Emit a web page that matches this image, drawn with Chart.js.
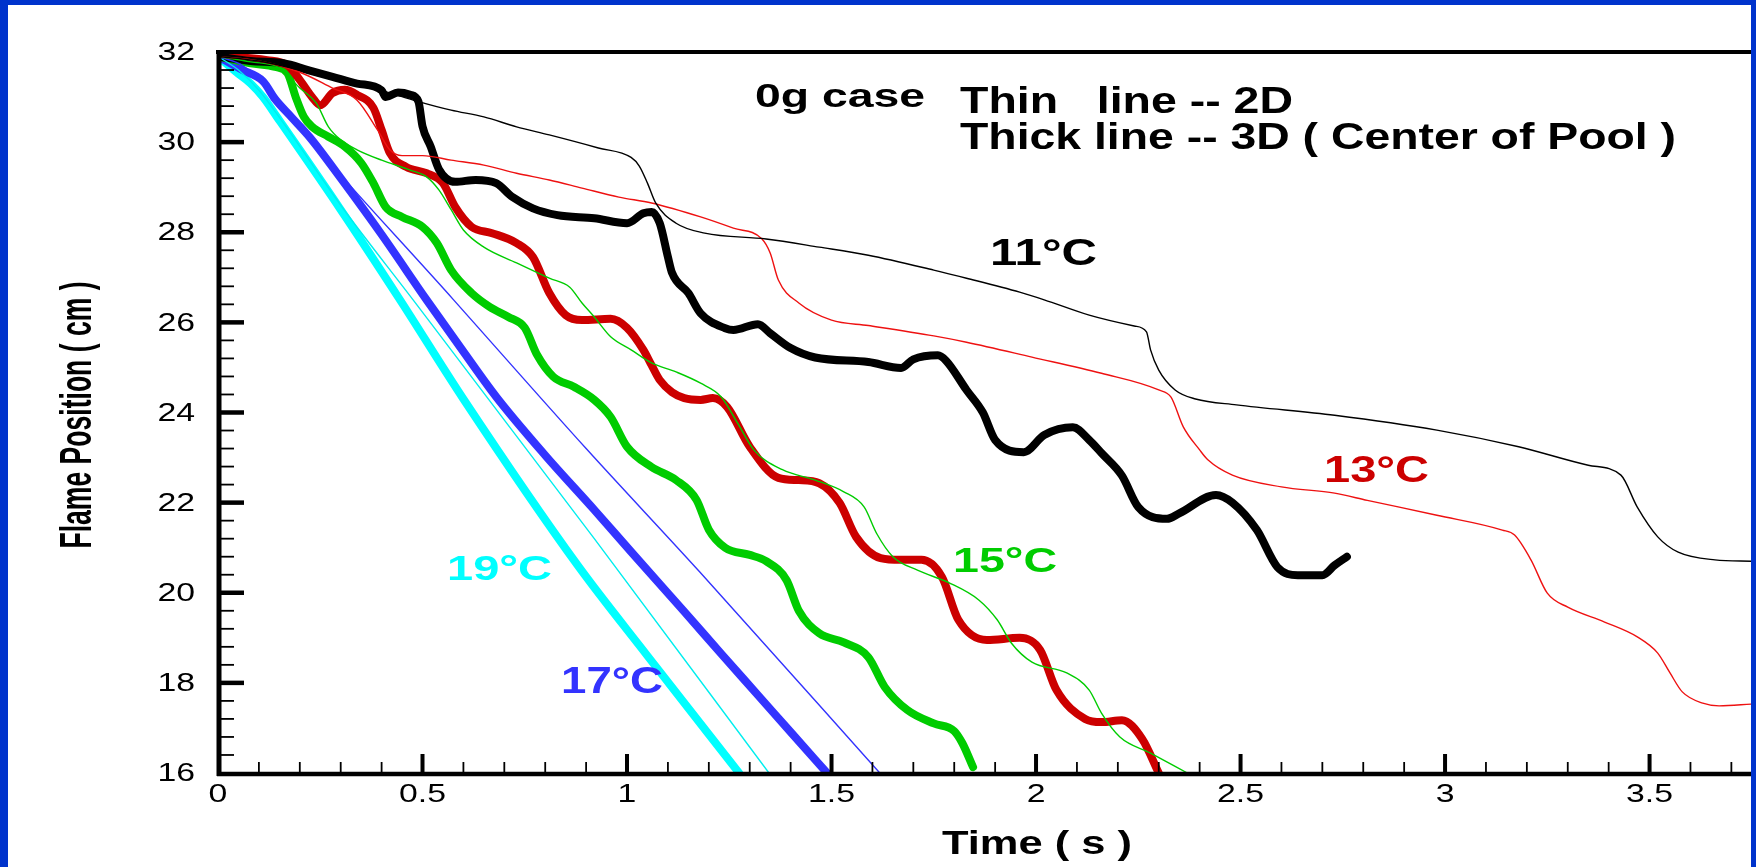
<!DOCTYPE html>
<html><head><meta charset="utf-8">
<script src="https://cdn.jsdelivr.net/npm/chart.js@4.4.1/dist/chart.umd.min.js"></script>
<style>
html,body{margin:0;padding:0;background:#0033cc;width:1756px;height:867px;overflow:hidden}
#wrap{position:absolute;left:8px;top:5px;width:1743px;height:862px;background:#fff}
canvas{display:block}
</style></head><body>
<div id="wrap"><canvas id="c" width="1743" height="862"></canvas></div>
<script>
// ---- data (time in s, flame position in cm) ----
const t11_3D = [0,0.08,0.16,0.22,0.28,0.34,0.40,0.41,0.44,0.47,0.49,0.50,0.52,0.54,0.58,0.63,0.68,0.72,0.77,0.83,0.92,1.00,1.04,1.06,1.08,1.10,1.11,1.15,1.18,1.24,1.26,1.32,1.35,1.40,1.46,1.59,1.67,1.70,1.76,1.78,1.83,1.87,1.90,1.97,2.02,2.09,2.13,2.16,2.21,2.25,2.32,2.35,2.44,2.48,2.54,2.59,2.64,2.70,2.73,2.76];
const v11_3D = [31.9,31.8,31.75,31.6,31.45,31.3,31.15,31.0,31.1,31.05,30.9,30.35,29.9,29.4,29.12,29.16,29.09,28.78,28.53,28.38,28.31,28.2,28.42,28.45,28.2,27.45,27.1,26.65,26.2,25.87,25.83,25.96,25.76,25.43,25.22,25.12,24.99,25.18,25.27,25.15,24.5,24.0,23.39,23.12,23.5,23.67,23.39,23.1,22.6,21.9,21.64,21.76,22.17,22.0,21.39,20.57,20.39,20.39,20.61,20.8];
const t11_2D = [0,0.1,0.2,0.3,0.4,0.49,0.57,0.65,0.73,0.81,0.93,1.01,1.03,1.05,1.07,1.12,1.19,1.34,1.47,1.59,1.75,1.83,1.96,2.02,2.13,2.24,2.27,2.28,2.30,2.34,2.39,2.49,2.73,2.98,3.18,3.35,3.43,3.47,3.52,3.57,3.66,3.75];
const v11_2D = [31.9,31.8,31.6,31.4,31.15,30.9,30.71,30.56,30.34,30.16,29.87,29.66,29.47,29.09,28.65,28.2,27.98,27.85,27.67,27.49,27.16,26.98,26.67,26.5,26.16,25.92,25.79,25.39,24.94,24.5,24.3,24.17,23.94,23.61,23.24,22.83,22.61,21.9,21.24,20.9,20.73,20.7];
const t13_3D = [0,0.12,0.17,0.20,0.23,0.25,0.28,0.31,0.34,0.38,0.40,0.42,0.46,0.51,0.55,0.58,0.62,0.67,0.73,0.77,0.81,0.85,0.89,0.96,1.0,1.04,1.06,1.08,1.11,1.14,1.18,1.21,1.245,1.30,1.37,1.42,1.47,1.52,1.56,1.62,1.67,1.72,1.77,1.81,1.88,1.96,2.01,2.05,2.12,2.16,2.21,2.26,2.30];
const v13_3D = [31.9,31.82,31.7,31.38,31.0,30.82,31.09,31.16,31.05,30.76,30.27,29.76,29.45,29.31,29.09,28.56,28.12,27.98,27.76,27.45,26.65,26.16,26.05,26.08,25.88,25.39,25.05,24.72,24.45,24.32,24.28,24.32,24.12,23.24,22.55,22.5,22.43,21.99,21.24,20.77,20.73,20.73,20.35,19.4,18.95,19.0,18.73,17.84,17.2,17.13,17.17,16.75,16.0];
const t13_2D = [0,0.1,0.2,0.28,0.34,0.39,0.42,0.45,0.50,0.57,0.65,0.73,0.81,0.89,0.98,1.06,1.18,1.26,1.33,1.35,1.37,1.42,1.50,1.59,1.75,1.83,1.99,2.16,2.30,2.33,2.36,2.40,2.42,2.48,2.60,2.73,2.81,2.98,3.14,3.17,3.21,3.25,3.30,3.39,3.47,3.52,3.55,3.58,3.63,3.67,3.75];
const v13_2D = [31.9,31.8,31.55,31.2,30.93,30.27,29.83,29.7,29.7,29.6,29.49,29.31,29.16,28.98,28.78,28.65,28.34,28.09,27.85,27.54,26.94,26.43,26.05,25.93,25.7,25.56,25.23,24.87,24.5,24.34,23.68,23.17,22.95,22.61,22.35,22.21,22.05,21.72,21.39,21.28,20.73,19.99,19.68,19.35,19.02,18.66,18.22,17.8,17.55,17.49,17.53];
const t15_3D = [0,0.08,0.14,0.17,0.19,0.21,0.23,0.27,0.31,0.35,0.38,0.41,0.45,0.50,0.535,0.57,0.62,0.665,0.71,0.75,0.78,0.82,0.87,0.92,0.96,1.0,1.06,1.12,1.17,1.20,1.24,1.30,1.34,1.39,1.42,1.47,1.53,1.59,1.63,1.685,1.75,1.80,1.82,1.846];
const v15_3D = [31.9,31.75,31.67,31.53,31.0,30.56,30.34,30.12,29.9,29.54,29.09,28.56,28.34,28.12,27.76,27.16,26.65,26.34,26.12,25.88,25.28,24.79,24.57,24.28,23.9,23.24,22.79,22.5,22.06,21.4,21.0,20.84,20.7,20.28,19.6,19.1,18.9,18.57,17.91,17.4,17.1,16.93,16.66,16.13];
const t15_2D = [0,0.08,0.15,0.20,0.24,0.27,0.30,0.34,0.40,0.47,0.51,0.54,0.57,0.60,0.65,0.73,0.81,0.86,0.89,0.92,0.96,1.01,1.06,1.12,1.18,1.23,1.27,1.31,1.38,1.46,1.53,1.58,1.61,1.65,1.71,1.79,1.86,1.905,1.94,1.99,2.075,2.13,2.16,2.205,2.28,2.37];
const v15_2D = [31.9,31.78,31.65,31.2,30.87,30.34,30.05,29.83,29.6,29.38,29.23,28.94,28.5,28.05,27.67,27.32,26.98,26.78,26.43,26.12,25.68,25.39,25.1,24.9,24.65,24.35,23.77,23.17,22.73,22.5,22.24,21.9,21.32,20.8,20.5,20.21,19.84,19.4,18.88,18.46,18.22,17.84,17.33,16.8,16.44,16.0];
const t17_3D = [0,0.06,0.11,0.14,0.18,0.225,0.30,0.40,0.51,0.60,0.68,0.80,0.92,1.01,1.09,1.14,1.23,1.32,1.40,1.489];
const v17_3D = [31.9,31.6,31.35,30.95,30.55,30.1,29.2,27.95,26.5,25.35,24.35,23.05,21.84,20.91,20.09,19.58,18.65,17.73,16.91,16.0];
const t17_2D = [0,0.06,0.12,0.176,0.576,0.9,1.178,1.618];
const v17_2D = [31.9,31.7,31.2,30.56,26.5,23.2,20.46,16.0];
const t19_3D = [0,0.045,0.08,0.11,0.144,0.30,0.445,0.60,0.88,1.05,1.274];
const v19_3D = [31.9,31.55,31.3,31.0,30.56,28.5,26.5,24.3,20.6,18.6,16.0];
const t19_2D = [0,0.05,0.1,0.15,0.3,0.477,0.92,1.347];
const v19_2D = [31.9,31.6,31.15,30.55,28.6,26.5,21.2,16.0];

const xTickValues = [0,0.5,1,1.5,2,2.5,3,3.5];
const xTickLabels = ['0','0.5','1','1.5','2','2.5','3','3.5'];
const yTickValues = [16,18,20,22,24,26,28,30,32];
const yTickLabels = ['16','18','20','22','24','26','28','30','32'];

const seriesLabels = ['11°C','13°C','15°C','17°C','19°C'];
const seriesColors = ['#000000','#cc0000','#00cc00','#3333ff','#00ffff'];
const thinColors   = ['#000000','#ee1111','#00cc00','#3333ff','#00eeee'];

const xTitle = 'Time ( s )';
const yTitle = 'Flame Position ( cm )';
const noteCase = '0g case';
const noteThin = 'Thin   line -- 2D';
const noteThick = 'Thick line -- 3D ( Center of Pool )';

function pts(t, v){ return t.map((x,i)=>({x:x, y:v[i]})); }

const thin = [[t11_2D,v11_2D],[t13_2D,v13_2D],[t15_2D,v15_2D],[t17_2D,v17_2D],[t19_2D,v19_2D]];
const thick = [[t11_3D,v11_3D],[t13_3D,v13_3D],[t15_3D,v15_3D],[t17_3D,v17_3D],[t19_3D,v19_3D]];

const datasets = [];
thin.forEach((s,i)=>datasets.push({label:seriesLabels[i]+' 2D', data:pts(s[0],s[1]), borderColor:thinColors[i], borderWidth:1.4, pointRadius:0, cubicInterpolationMode:'monotone', fill:false}));
thick.forEach((s,i)=>datasets.push({label:seriesLabels[i]+' 3D', data:pts(s[0],s[1]), borderColor:seriesColors[i], borderWidth:8, pointRadius:0, cubicInterpolationMode:'monotone', borderJoinStyle:'round', borderCapStyle:'round', fill:false}));

function fitText(ctx, str, x, base, font, width, color){
  ctx.save(); ctx.font=font; ctx.fillStyle=color; ctx.textAlign='left'; ctx.textBaseline='alphabetic';
  const w=ctx.measureText(str).width; ctx.translate(x,base); ctx.scale(width/w,1); ctx.fillText(str,0,0); ctx.restore();
}
function sText(ctx, str, x, y, sx, align){
  ctx.save(); ctx.translate(x,y); ctx.scale(sx,1); ctx.textAlign=align; ctx.fillText(str,0,0); ctx.restore();
}

const deco = {
  id:'deco',
  afterDatasetsDraw(chart){
    const ctx=chart.ctx, xs=chart.scales.x, ys=chart.scales.y;
    const X=v=>xs.getPixelForValue(v), Y=v=>ys.getPixelForValue(v);
    const W=chart.width;
    const line=(a,b,c,d)=>{ctx.beginPath();ctx.moveTo(a,b);ctx.lineTo(c,d);ctx.stroke();};
    ctx.save();
    ctx.strokeStyle='#000'; ctx.lineCap='butt';
    ctx.lineWidth=4; line(X(0)-2, Y(32), W, Y(32));
    ctx.lineWidth=5; line(X(0)+1, Y(32)-2, X(0)+1, Y(16)+3);
    ctx.lineWidth=4.5; line(X(0)-1, Y(16)+1, W, Y(16)+1);
    for(let k=1;k<40;k++){
      const v=16+0.4*k, major=(k%5===0);
      ctx.lineWidth=major?4.5:1.8; const len=major?25:15;
      line(X(0)+1, Y(v), X(0)+1+len, Y(v));
    }
    for(let k=1;k<=40;k++){
      const t=k*0.1; if(X(t)>W-1) break;
      const major=(k%5===0);
      ctx.lineWidth=major?4:1.8; const len=major?19:11;
      line(X(t), Y(16), X(t), Y(16)-len);
    }
    ctx.fillStyle='#000';
    ctx.font='26px "Liberation Sans", Arial, sans-serif';
    ctx.textBaseline='middle';
    yTickValues.forEach((v,i)=>sText(ctx, yTickLabels[i], X(0)-23, Y(v)+1, 1.3, 'right'));
    xTickValues.forEach((v,i)=>sText(ctx, xTickLabels[i], X(v), Y(16)+22, 1.3, 'center'));
    // axis titles
    fitText(ctx, xTitle, 934, 849, 'bold 33px "Liberation Sans", Arial, sans-serif', 190, '#000');
    ctx.save();
    ctx.font='bold 28px "Liberation Sans", Arial, sans-serif';
    ctx.fillStyle='#000'; ctx.textAlign='center'; ctx.textBaseline='middle';
    const yw=ctx.measureText(yTitle).width;
    ctx.translate(71,410); ctx.scale(1.6,1); ctx.rotate(-Math.PI/2); ctx.scale(267/yw,1);
    ctx.fillText(yTitle,0,0);
    ctx.restore();
    // notes
    const bf='bold 36px "Liberation Sans", Arial, sans-serif';
    fitText(ctx, noteCase, 747, 102, 'bold 33px "Liberation Sans", Arial, sans-serif', 170, '#000');
    fitText(ctx, noteThin, 952, 108, bf, 333, '#000');
    fitText(ctx, noteThick, 952, 144, bf, 716, '#000');
    // series labels
    fitText(ctx, seriesLabels[0], 982, 260, bf, 107, seriesColors[0]);
    fitText(ctx, seriesLabels[1], 1316, 477, bf, 105, seriesColors[1]);
    fitText(ctx, seriesLabels[2], 945, 567, 'bold 35px "Liberation Sans", Arial, sans-serif', 104, seriesColors[2]);
    fitText(ctx, seriesLabels[3], 553, 688, bf, 102, seriesColors[3]);
    fitText(ctx, seriesLabels[4], 439, 575, 'bold 35px "Liberation Sans", Arial, sans-serif', 105, seriesColors[4]);
    ctx.restore();
  }
};

new Chart(document.getElementById('c'), {
  type:'line',
  data:{datasets:datasets},
  options:{
    responsive:false, animation:false, devicePixelRatio:1,
    layout:{padding:{left:210,right:0,top:47,bottom:94}},
    plugins:{legend:{display:false}, tooltip:{enabled:false}},
    scales:{
      x:{type:'linear', min:0, max:3.748, display:false},
      y:{type:'linear', min:16, max:32, display:false}
    }
  },
  plugins:[deco]
});
</script>
</body></html>
